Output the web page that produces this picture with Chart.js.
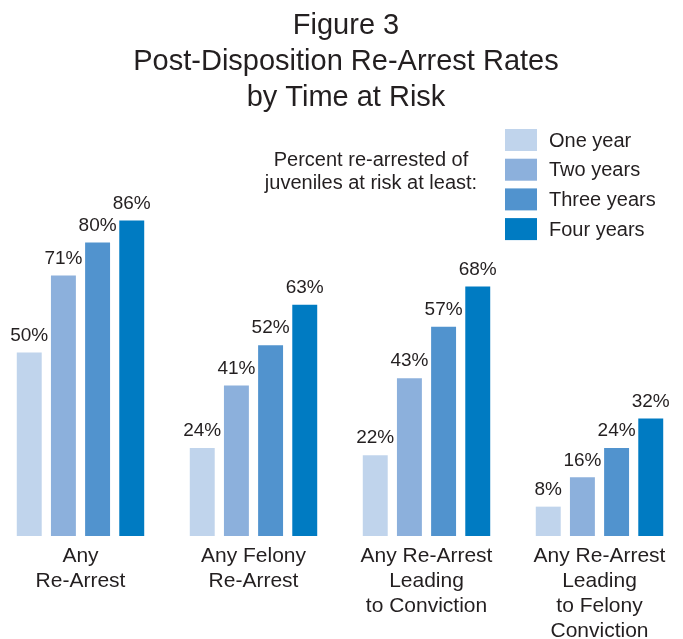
<!DOCTYPE html>
<html>
<head>
<meta charset="utf-8">
<script src="https://cdn.jsdelivr.net/npm/chart.js@4.4.1/dist/chart.umd.min.js"></script>
<style>
    html, body { margin: 0; padding: 0; background: #ffffff; overflow: hidden; }
    #wrap { position: relative; width: 683px; height: 639px; overflow: hidden; }
    #grafic { position: absolute; left: -6px; top: 0; }
</style>
</head>
<body>
<div id="wrap"><canvas id="grafic" width="692" height="639"></canvas></div>
<script>
// =========================================================
// DATA
// =========================================================
const categories = [
    ['Any', 'Re-Arrest'],
    ['Any Felony', 'Re-Arrest'],
    ['Any Re-Arrest', 'Leading', 'to Conviction'],
    ['Any Re-Arrest', 'Leading', 'to Felony', 'Conviction']
];
const seriesNames = ['One year', 'Two years', 'Three years', 'Four years'];
const oneYear    = [50, 24, 22, 8];
const twoYears   = [71, 41, 43, 16];
const threeYears = [80, 52, 57, 24];
const fourYears  = [86, 63, 68, 32];
const titleLines = ['Figure 3', 'Post-Disposition Re-Arrest Rates', 'by Time at Risk'];
const noteLines  = ['Percent re-arrested of', 'juveniles at risk at least:'];

const colors = ['#c0d4ec', '#8cb0dc', '#5193ce', '#007bc2'];
const textColor = '#231f20';
const fontFamily = "'Liberation Sans', Arial, Helvetica, sans-serif";
const OFF = 6; // canvas is shifted 6px left of the page

// =========================================================
// TEXT PLUGIN (title, note, legend, value + category labels)
// =========================================================
const textPlugin = {
    id: 'textPlugin',
    afterDraw(chart) {
        const ctx = chart.ctx;
        ctx.save();
        ctx.fillStyle = textColor;
        ctx.textAlign = 'center';
        ctx.textBaseline = 'middle';

        // title
        ctx.font = '29px ' + fontFamily;
        titleLines.forEach((t, i) => ctx.fillText(t, 346 + OFF, 26 + i * 36));

        // note
        ctx.font = '20px ' + fontFamily;
        noteLines.forEach((t, i) => ctx.fillText(t, 371 + OFF, 160 + i * 23));

        // legend
        chart.data.datasets.forEach((ds, i) => {
            const y = 129 + i * 29.7;
            ctx.fillStyle = ds.backgroundColor;
            ctx.fillRect(505 + OFF, y, 32, 22);
            ctx.fillStyle = textColor;
            ctx.textAlign = 'left';
            ctx.font = '20px ' + fontFamily;
            ctx.fillText(ds.label, 549 + OFF, y + 12);
        });

        // value labels
        ctx.textAlign = 'center';
        ctx.font = '19px ' + fontFamily;
        chart.data.datasets.forEach((ds, i) => {
            chart.getDatasetMeta(i).data.forEach((bar, j) => {
                ctx.fillText(ds.data[j] + '%', bar.x, bar.y - 17);
            });
        });

        // category labels
        const xScale = chart.scales.x;
        ctx.font = '21px ' + fontFamily;
        categories.forEach((lines, j) => {
            const x = xScale.getPixelForValue(j);
            lines.forEach((t, k) => ctx.fillText(t, x, 556 + k * 25));
        });
        ctx.restore();
    }
};

// =========================================================
// CHART
// =========================================================
const seriesData = [oneYear, twoYears, threeYears, fourYears];

new Chart(document.getElementById('grafic').getContext('2d'), {
    type: 'bar',
    data: {
        labels: categories.map(c => c.join(' ')),
        datasets: seriesData.map((d, i) => ({
            label: seriesNames[i],
            data: d,
            backgroundColor: colors[i],
            borderWidth: 0,
            categoryPercentage: 0.79,
            barPercentage: 0.73
        }))
    },
    options: {
        responsive: false,
        animation: false,
        layout: { padding: { top: 169, bottom: 103, left: 0, right: 0 } },
        plugins: {
            legend: { display: false },
            title: { display: false },
            tooltip: { enabled: false }
        },
        scales: {
            x: { display: false },
            y: { display: false, min: 0, max: 100 }
        }
    },
    plugins: [textPlugin]
});
</script>
</body>
</html>
